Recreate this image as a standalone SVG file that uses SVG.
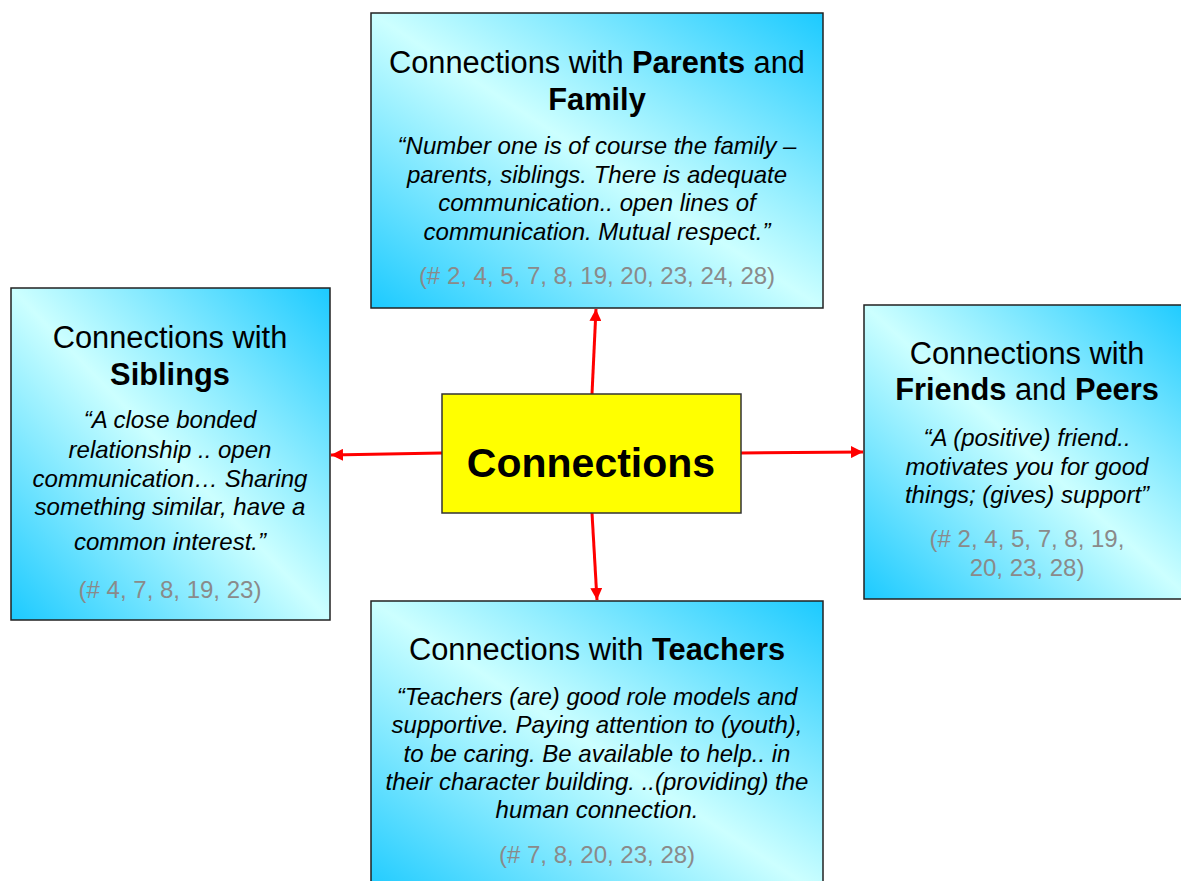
<svg xmlns="http://www.w3.org/2000/svg" width="1181" height="881" viewBox="0 0 1181 881">
  <defs>
    <linearGradient id="sky" x1="0" y1="1" x2="1" y2="0">
      <stop offset="0" stop-color="#1ccaff"/>
      <stop offset="0.5" stop-color="#ccffff"/>
      <stop offset="1" stop-color="#1ccaff"/>
    </linearGradient>
    <marker id="head" markerUnits="userSpaceOnUse" markerWidth="14" markerHeight="12" refX="12" refY="6" orient="auto">
      <path d="M0,0 L12,6 L0,12 Z" fill="#ff0000"/>
    </marker>
    <style>
      .box { fill: url(#sky); stroke: #222; stroke-width: 1.5; }
      .hub { fill: #ffff00; stroke: #333; stroke-width: 1.5; }
      text { font-family: "Liberation Sans", Arial, sans-serif; text-anchor: middle; fill: #000; }
      .title { font-size: 30.8px; }
      .b { font-weight: bold; }
      .quote { font-size: 24px; font-style: italic; }
      .refs { font-size: 24px; fill: #8a8a8a; }
      .link { stroke: #ff0000; stroke-width: 3; fill: none; marker-end: url(#head); }
    </style>
  </defs>

  <rect width="1181" height="881" fill="#ffffff"/>

  <!-- connectors from the hub to each box -->
  <g id="connectors">
    <line class="link" x1="592" y1="394" x2="596" y2="309"/>
    <line class="link" x1="592" y1="513" x2="597" y2="600"/>
    <line class="link" x1="442" y1="453" x2="331" y2="455"/>
    <line class="link" x1="741" y1="453" x2="863" y2="452"/>
  </g>

  <g id="parents">
    <rect class="box" x="371" y="13" width="452" height="295"/>
    <text class="title" x="597" y="73">Connections with <tspan class="b">Parents</tspan> and</text>
    <text class="title b" x="597" y="110">Family</text>
    <text class="quote" x="597" y="154">“Number one is of course the family –</text>
    <text class="quote" x="597" y="183">parents, siblings. There is adequate</text>
    <text class="quote" x="597" y="211">communication.. open lines of</text>
    <text class="quote" x="597" y="240">communication. Mutual respect.”</text>
    <text class="refs" x="597" y="284">(# 2, 4, 5, 7, 8, 19, 20, 23, 24, 28)</text>
  </g>

  <g id="siblings">
    <rect class="box" x="11" y="288" width="319" height="332"/>
    <text class="title" x="170" y="348">Connections with</text>
    <text class="title b" x="170" y="385">Siblings</text>
    <text class="quote" x="170" y="428">“A close bonded</text>
    <text class="quote" x="170" y="458">relationship .. open</text>
    <text class="quote" x="170" y="487">communication… Sharing</text>
    <text class="quote" x="170" y="515">something similar, have a</text>
    <text class="quote" x="170" y="550">common interest.”</text>
    <text class="refs" x="170" y="598">(# 4, 7, 8, 19, 23)</text>
  </g>

  <g id="friends">
    <rect class="box" x="864" y="305" width="327" height="294"/>
    <text class="title" x="1027" y="364">Connections with</text>
    <text class="title" x="1027" y="400"><tspan class="b">Friends</tspan> and <tspan class="b">Peers</tspan></text>
    <text class="quote" x="1027" y="446">“A (positive) friend..</text>
    <text class="quote" x="1027" y="475">motivates you for good</text>
    <text class="quote" x="1027" y="503">things; (gives) support”</text>
    <text class="refs" x="1027" y="547">(# 2, 4, 5, 7, 8, 19,</text>
    <text class="refs" x="1027" y="576">20, 23, 28)</text>
  </g>

  <g id="teachers">
    <rect class="box" x="371" y="601" width="452" height="295"/>
    <text class="title" x="597" y="660">Connections with <tspan class="b">Teachers</tspan></text>
    <text class="quote" x="597" y="705">“Teachers (are) good role models and</text>
    <text class="quote" x="597" y="733">supportive. Paying attention to (youth),</text>
    <text class="quote" x="597" y="762">to be caring. Be available to help.. in</text>
    <text class="quote" x="597" y="790">their character building. ..(providing) the</text>
    <text class="quote" x="597" y="818">human connection.</text>
    <text class="refs" x="597" y="863">(# 7, 8, 20, 23, 28)</text>
  </g>

  <g id="hub">
    <rect class="hub" x="442" y="394" width="299" height="119"/>
    <text class="b" x="591" y="477" font-size="41">Connections</text>
  </g>
</svg>
